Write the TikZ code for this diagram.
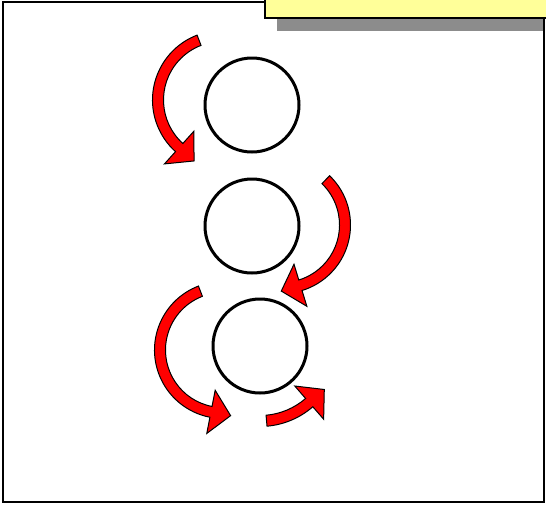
\documentclass[tikz,border=0pt]{standalone}
\usetikzlibrary{calc}
\definecolor{cNote}{RGB}{255,255,153}
\definecolor{cShadow}{RGB}{140,140,140}
\tikzset{
	ring/.style     ={circle, draw=black, line width=1.5pt, minimum size=47pt, inner sep=0pt},
	redarrow/.style ={fill=red, draw=black, line width=0.5pt, line join=miter},
	frameline/.style={draw=black, line width=1pt},
	notebox/.style  ={fill=cNote, draw=black, line width=1pt},
	shadowbox/.style={fill=cShadow},
}
% bent block arrow: centre, radius, start angle, end angle, tip direction
\newcommand{\bentarrow}[5]{%
	\filldraw[redarrow] ($(#1)+(#3:#2+5.5)$) arc[start angle=#3, end angle=#4, radius=#2+5.5]
		-- ($(#1)+(#4:#2+22)$) -- ($(#1)+(#4:#2)+(#5:20)$) -- ($(#1)+(#4:#2-22)$)
		-- ($(#1)+(#4:#2-5.5)$) arc[start angle=#4, end angle=#3, radius=#2-5.5] -- cycle;}

\begin{document}
\begin{tikzpicture}[x=1pt, y=1pt, scale=0.5, yscale=-1]
	\useasboundingbox (0,0) rectangle (546,504);
	% frame and note
	\fill[shadowbox] (277,18) rectangle (543,31);
	\draw[frameline] (3,2) rectangle (544,502);
	\filldraw[notebox] (265,-5) rectangle (552,18);
	% circles
	\node[ring] (c1) at (252,105) {};
	\node[ring] (c2) at (252,226) {};
	\node[ring] (c3) at (260,346) {};
	% centres of the bent arrows
	\coordinate (a1) at (222,100);
	\coordinate (a2) at (282,225);
	\coordinate (a3) at (223,350);
	\bentarrow{a1}{64}{249}{132}{42}
	\bentarrow{a2}{63}{-46}{73}{163}
	\bentarrow{a3}{63}{249}{101}{11}
	\bentarrow{c3}{75}{85}{49}{-41}
\end{tikzpicture}
\end{document}
